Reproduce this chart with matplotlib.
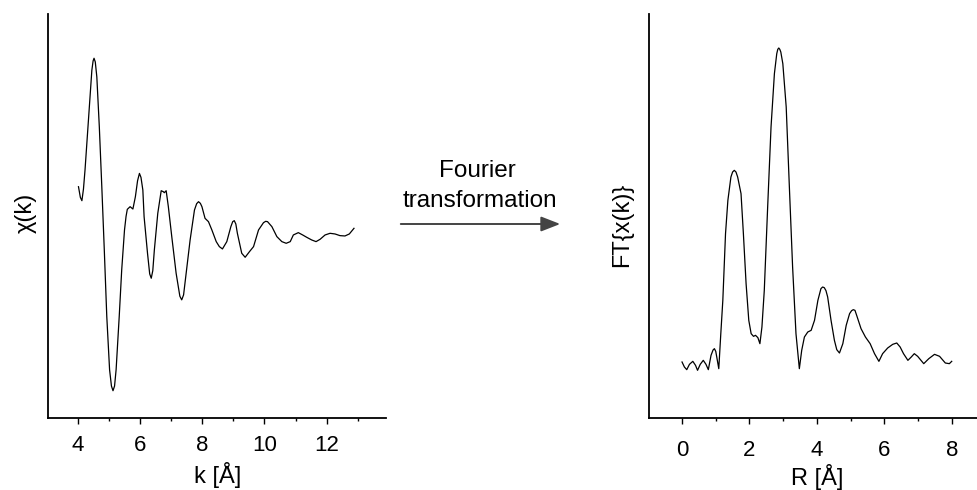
import matplotlib.pyplot as plt
from matplotlib.patches import FancyArrowPatch
from matplotlib.ticker import MultipleLocator

plt.rcParams['font.family'] = ['Liberation Sans', 'DejaVu Sans']

# EXAFS oscillations chi(k)
k_vals = [4.02, 4.08, 4.13, 4.18, 4.23, 4.34, 4.45, 4.49, 4.52, 4.56, 4.61,
          4.69, 4.77, 4.85, 4.93, 5.02, 5.08, 5.13, 5.18, 5.23, 5.33, 5.41,
          5.50, 5.55, 5.59, 5.68, 5.77, 5.85, 5.92, 5.98, 6.03, 6.09, 6.13,
          6.24, 6.31, 6.36, 6.41, 6.46, 6.57, 6.68, 6.75, 6.78, 6.84, 6.91,
          7.02, 7.16, 7.28, 7.34, 7.40, 7.47, 7.61, 7.75, 7.82, 7.88, 7.94,
          7.99, 8.09, 8.20, 8.31, 8.45, 8.55, 8.65, 8.79, 8.92, 8.98, 9.03,
          9.08, 9.13, 9.27, 9.38, 9.52, 9.65, 9.81, 9.97, 10.04, 10.10, 10.24,
          10.40, 10.56, 10.70, 10.83, 10.93, 11.09, 11.23, 11.36, 11.52, 11.66,
          11.79, 11.95, 12.11, 12.27, 12.43, 12.59, 12.73, 12.88]
chi_vals = [1.27, 0.95, 0.85, 1.20, 1.77, 3.27, 4.77, 5.05, 5.13, 5.02, 4.57,
            3.07, 1.27, -0.63, -2.63, -4.23, -4.72, -4.86, -4.72, -4.23, -2.63, -1.23,
            -0.03, 0.38, 0.59, 0.67, 0.60, 0.97, 1.45, 1.67, 1.55, 1.17, 0.37,
            -0.73, -1.35, -1.48, -1.25, -0.63, 0.47, 1.15, 1.12, 1.09, 1.15, 0.67,
            -0.23, -1.33, -2.02, -2.13, -1.98, -1.43, -0.33, 0.57, 0.76, 0.82, 0.77,
            0.67, 0.32, 0.22, -0.03, -0.38, -0.53, -0.60, -0.38, 0.07, 0.22, 0.25,
            0.15, -0.13, -0.73, -0.85, -0.68, -0.53, -0.03, 0.19, 0.23, 0.22, 0.07,
            -0.23, -0.38, -0.43, -0.38, -0.18, -0.11, -0.18, -0.25, -0.33, -0.38,
            -0.31, -0.18, -0.13, -0.15, -0.20, -0.21, -0.15, 0.02]

# Fourier transform magnitude vs R
r_vals = [0.00, 0.07, 0.14, 0.22, 0.32, 0.40, 0.46, 0.54, 0.63, 0.71, 0.78,
          0.86, 0.92, 0.96, 1.00, 1.03, 1.09, 1.15, 1.21, 1.29, 1.36, 1.45,
          1.50, 1.55, 1.60, 1.65, 1.75, 1.82, 1.90, 1.98, 2.05, 2.12, 2.18,
          2.25, 2.31, 2.37, 2.44, 2.54, 2.64, 2.74, 2.81, 2.84, 2.87, 2.90,
          2.93, 2.99, 3.09, 3.18, 3.28, 3.38, 3.48, 3.55, 3.63, 3.73, 3.83,
          3.93, 4.03, 4.12, 4.17, 4.22, 4.27, 4.32, 4.42, 4.52, 4.59, 4.67,
          4.77, 4.87, 4.97, 5.03, 5.08, 5.13, 5.18, 5.31, 5.44, 5.58, 5.71,
          5.84, 5.95, 6.10, 6.25, 6.37, 6.47, 6.57, 6.70, 6.80, 6.89, 6.99,
          7.17, 7.32, 7.49, 7.64, 7.81, 7.93, 8.00]
ft_vals = [1.68, 1.53, 1.45, 1.61, 1.70, 1.58, 1.43, 1.61, 1.73, 1.61, 1.45,
           1.88, 2.04, 2.08, 2.00, 1.83, 1.48, 2.53, 3.53, 5.53, 6.53, 7.23,
           7.38, 7.43, 7.38, 7.23, 6.73, 5.53, 4.03, 2.93, 2.53, 2.45, 2.48,
           2.41, 2.23, 2.73, 3.83, 6.33, 8.73, 10.33, 10.93, 11.06, 11.10, 11.06,
           10.98, 10.63, 9.33, 7.03, 4.53, 2.53, 1.48, 2.03, 2.43, 2.58, 2.63,
           2.93, 3.53, 3.88, 3.93, 3.91, 3.82, 3.63, 2.93, 2.33, 2.05, 1.95,
           2.23, 2.78, 3.13, 3.22, 3.25, 3.23, 3.08, 2.68, 2.43, 2.23, 1.93,
           1.70, 1.93, 2.10, 2.21, 2.25, 2.13, 1.93, 1.73, 1.83, 1.93, 1.85,
           1.63, 1.78, 1.91, 1.85, 1.65, 1.63, 1.70]

W, H = 977, 490
fig = plt.figure(figsize=(W / 100, H / 100), dpi=100)


def px_axes(x0, x1, y0, y1):
    return fig.add_axes([x0 / W, 1 - y1 / H, (x1 - x0) / W, (y1 - y0) / H])


def style(ax):
    for s in ('top', 'right'):
        ax.spines[s].set_visible(False)
    for s in ('left', 'bottom'):
        ax.spines[s].set_linewidth(1.3)
    ax.set_yticks([])
    ax.xaxis.set_major_locator(MultipleLocator(2))
    ax.xaxis.set_minor_locator(MultipleLocator(1))
    ax.tick_params(axis='x', which='major', direction='out', length=4,
                   width=1.0, labelsize=16, pad=8)
    ax.tick_params(axis='x', which='minor', direction='out', length=2.5,
                   width=1.0)


ax1 = px_axes(47.7, 385.7, 14, 418)
ax1.plot(k_vals, chi_vals, color='black', lw=0.9)
ax1.set_xlim(3.03, 13.9)
ax1.set_ylim(-5.68, 6.46)
style(ax1)

ax2 = px_axes(649, 977, 14, 418)
ax2.plot(r_vals, ft_vals, color='black', lw=0.9)
ax2.set_xlim(-0.98, 8.75)
ax2.set_ylim(0, 12.12)
style(ax2)
ax2.tick_params(axis='x', which='major', pad=12)

# axis titles
fig.text(25.5 / W, 1 - 213 / H, 'χ(k)', rotation=90, ha='center', va='center',
         fontsize=17)
fig.text(622.5 / W, 1 - 225 / H, 'FT{x(k)}', rotation=90, ha='center',
         va='center', fontsize=17)
fig.text(218 / W, 1 - 483 / H, 'k [Å]', ha='center', va='baseline', fontsize=17)
fig.text(817 / W, 1 - 485 / H, 'R [Å]', ha='center', va='baseline', fontsize=17)

# arrow between the panels
fig.text(477 / W, 1 - 176.7 / H, 'Fourier', ha='center', va='baseline',
         fontsize=17.5)
fig.text(480 / W, 1 - 206.7 / H, 'transformation', ha='center', va='baseline',
         fontsize=17.5)
fig.patches.append(FancyArrowPatch(
    (398 / W, 1 - 224 / H), (563 / W, 1 - 224 / H),
    transform=fig.transFigure, arrowstyle='-|>,head_length=9,head_width=3.5',
    mutation_scale=1.3, color='#444444', lw=1.4))

fig.savefig('out.png', dpi=100)
